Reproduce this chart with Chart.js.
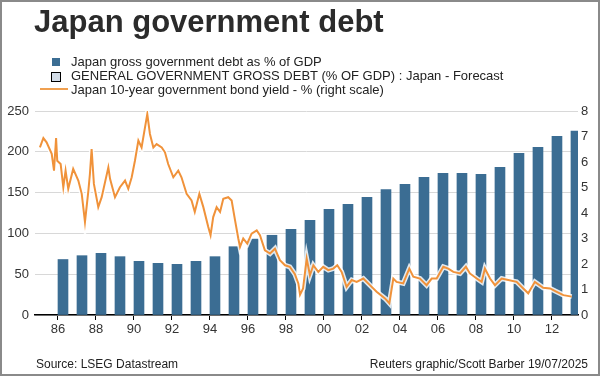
<!DOCTYPE html>
<html>
<head>
<meta charset="utf-8">
<script src="https://cdn.jsdelivr.net/npm/chart.js"></script>
<style>
  body { margin: 0; background: #fff; }
  #wrap { position: relative; width: 600px; height: 376px; font-family: "Liberation Sans", Arial, sans-serif; color: #222; }
  #frame { position: absolute; left: 0; top: 0; width: 600px; height: 376px; box-sizing: border-box; border: 2px solid #8a8a8a; pointer-events: none; }
  canvas { position: absolute; left: 0; top: 0; }
  .txt { position: absolute; white-space: nowrap; }
  #title { left: 34px; top: 4px; font-size: 31px; font-weight: bold; color: #2b2b2b; }
  .leg { font-size: 13px; left: 71px; }
  .sw { position: absolute; }
  .foot { font-size: 12px; top: 357px; color: #222; }
</style>
</head>
<body>
<div id="wrap">
  <canvas id="debtChart" width="600" height="376"></canvas>
  <div id="title" class="txt">Japan government debt</div>
  <div class="sw" style="left:52px;top:58px;width:8px;height:8px;background:#3b6d93;"></div>
  <div class="txt leg" style="top:54px;">Japan gross government debt as % of GDP</div>
  <div class="sw" style="left:51px;top:72px;width:8px;height:8px;background:#d3dde8;border:1px solid #000;"></div>
  <div class="txt leg" style="top:68px;">GENERAL GOVERNMENT GROSS DEBT (% OF GDP) : Japan - Forecast</div>
  <div class="sw" style="left:40px;top:88px;width:28px;height:2px;background:#f0a050;"></div>
  <div class="txt leg" style="top:82px;">Japan 10-year government bond yield - % (right scale)</div>
  <div class="txt foot" style="left:36px;">Source: LSEG Datastream</div>
  <div class="txt foot" style="right:12px;">Reuters graphic/Scott Barber 19/07/2025</div>
  <div id="frame"></div>
</div>
<script>
const years = [1986, 1987, 1988, 1989, 1990, 1991, 1992, 1993, 1994, 1995, 1996, 1997, 1998, 1999,
  2000, 2001, 2002, 2003, 2004, 2005, 2006, 2007, 2008, 2009, 2010, 2011, 2012, 2013];
const debtPct = [68, 72.7, 75.6, 71.5, 65.8, 63.3, 62.1, 65.8, 71.5, 83.7, 93, 97.7, 105, 116,
  129.5, 135.7, 144.2, 153.6, 160, 168.7, 173.6, 173.6, 172.4, 181, 198, 205.4, 219, 225.5];
const forecastPct = [];

const yieldDates = [1985.05, 1985.23, 1985.4, 1985.67, 1985.79, 1985.9, 1985.96, 1986.14, 1986.28, 1986.4,
  1986.54, 1986.8, 1987.07, 1987.25, 1987.42, 1987.6, 1987.68, 1987.77, 1987.89, 1988.12,
  1988.3, 1988.65, 1988.74, 1989.0, 1989.26, 1989.53, 1989.7, 1989.88, 1990.05, 1990.23,
  1990.4, 1990.58, 1990.7, 1990.84, 1991.02, 1991.19, 1991.46, 1991.63, 1991.8, 1992.07,
  1992.33, 1992.5, 1992.77, 1993.03, 1993.2, 1993.44, 1993.65, 1993.91, 1994.03, 1994.17,
  1994.35, 1994.53, 1994.7, 1994.96, 1995.14, 1995.32, 1995.49, 1995.58, 1995.75, 1995.96,
  1996.19, 1996.46, 1996.63, 1996.89, 1997.16, 1997.42, 1997.68, 1997.95, 1998.2, 1998.47,
  1998.65, 1998.74, 1998.9, 1999.09, 1999.26, 1999.44, 1999.7, 1999.96, 2000.23, 2000.49,
  2000.7, 2000.93, 2001.19, 2001.46, 2001.72, 2002.07, 2002.42, 2002.77, 2003.21, 2003.44,
  2003.65, 2003.82, 2004.17, 2004.49, 2004.7, 2005.05, 2005.4, 2005.67, 2005.93, 2006.28,
  2006.54, 2006.81, 2007.16, 2007.47, 2007.68, 2008.04, 2008.3, 2008.47, 2008.74, 2009.0,
  2009.35, 2009.7, 2010.14, 2010.49, 2010.75, 2011.1, 2011.54, 2011.9, 2012.25, 2012.6, 2013.04];
const yieldPct = [6.57, 6.94, 6.77, 6.32, 5.66, 6.94, 6.05, 5.92, 5.01, 5.66,
  4.95, 5.73, 5.27, 4.75, 3.65, 4.88, 5.53, 6.51, 5.14, 4.23,
  4.62, 5.79, 5.34, 4.62, 5.01, 5.27, 4.95, 5.4, 6.05, 6.84,
  6.57, 7.36, 7.88, 7.1, 6.57, 6.7, 6.57, 6.38, 5.92, 5.4,
  5.66, 5.4, 4.75, 4.49, 4.04, 4.75, 4.23, 3.45, 3.13, 3.84,
  4.23, 4.04, 4.56, 4.62, 4.49, 3.71, 3.0, 2.67, 3.0, 2.8,
  3.19, 3.32, 3.13, 2.54, 2.41, 2.6, 2.15, 1.95, 1.89, 1.6,
  1.24, 0.8, 1.04, 2.21, 1.56, 1.95, 1.69, 1.89, 1.76, 1.82,
  1.95, 1.69, 1.1, 1.37, 1.3, 1.43, 1.17, 0.91, 0.65, 0.46,
  1.43, 1.3, 1.24, 1.82, 1.5, 1.43, 1.17, 1.43, 1.43, 1.89,
  1.82, 1.69, 1.63, 1.89, 1.63, 1.43, 1.3, 1.82, 1.43, 1.17,
  1.43, 1.37, 1.3, 1.04, 0.85, 1.3, 1.07, 1.04, 0.91, 0.78, 0.72];

const xTicks = [1986, 1988, 1990, 1992, 1994, 1996, 1998, 2000, 2002, 2004, 2006, 2008, 2010, 2012];
const leftTicks = [0, 50, 100, 150, 200, 250];
const rightTicks = [0, 1, 2, 3, 4, 5, 6, 7, 8];

const yieldPoints = yieldDates.map((d, i) => ({ x: d, y: yieldPct[i] }));
const tickFont = { family: '"Liberation Sans", Arial, sans-serif', size: 13 };

new Chart(document.getElementById('debtChart').getContext('2d'), {
  type: 'bar',
  data: {
    datasets: [
      {
        type: 'line', label: 'yield', data: yieldPoints, yAxisID: 'y1',
        borderColor: '#f0923a', borderWidth: 2, pointRadius: 0, tension: 0, order: 0
      },
      {
        type: 'line', label: 'halo', data: yieldPoints, yAxisID: 'y1',
        borderColor: 'rgba(255,255,255,0.85)', borderWidth: 5, pointRadius: 0, tension: 0, order: 1
      },
      {
        label: 'forecast', data: forecastPct, yAxisID: 'y',
        backgroundColor: '#d3dde8', order: 2
      },
      {
        label: 'debt', data: years.map((yr, i) => ({ x: yr, y: debtPct[i] })), yAxisID: 'y',
        backgroundColor: '#3b6d93', barThickness: 10, order: 3
      }
    ]
  },
  options: {
    responsive: false,
    animation: false,
    layout: { padding: { top: 111, left: 0, right: 0, bottom: 0 } },
    plugins: { legend: { display: false }, tooltip: { enabled: false } },
    scales: {
      x: {
        type: 'linear', min: 1984.79, max: 2013.37, offset: false,
        afterBuildTicks: s => { s.ticks = xTicks.map(v => ({ value: v })); },
        afterFit: s => { s.height = 61; },
        ticks: { font: tickFont, color: '#333', padding: 2, callback: v => String(v).slice(2) },
        grid: { drawOnChartArea: false, drawTicks: true, tickLength: 5, color: '#000', offset: false },
        border: { display: true, color: '#000', width: 1.5 }
      },
      y: {
        position: 'left', min: 0, max: 250,
        afterBuildTicks: s => { s.ticks = leftTicks.map(v => ({ value: v })); },
        afterFit: s => { s.width = 35; },
        ticks: { font: tickFont, color: '#333', padding: 6 },
        grid: { color: '#d8d8d8', drawTicks: false },
        border: { display: false }
      },
      y1: {
        position: 'right', min: 0, max: 8,
        afterBuildTicks: s => { s.ticks = rightTicks.map(v => ({ value: v })); },
        afterFit: s => { s.width = 22; },
        ticks: { font: tickFont, color: '#333', padding: 3 },
        grid: { display: false, drawTicks: false },
        border: { display: false }
      }
    }
  }
});
</script>
</body>
</html>
